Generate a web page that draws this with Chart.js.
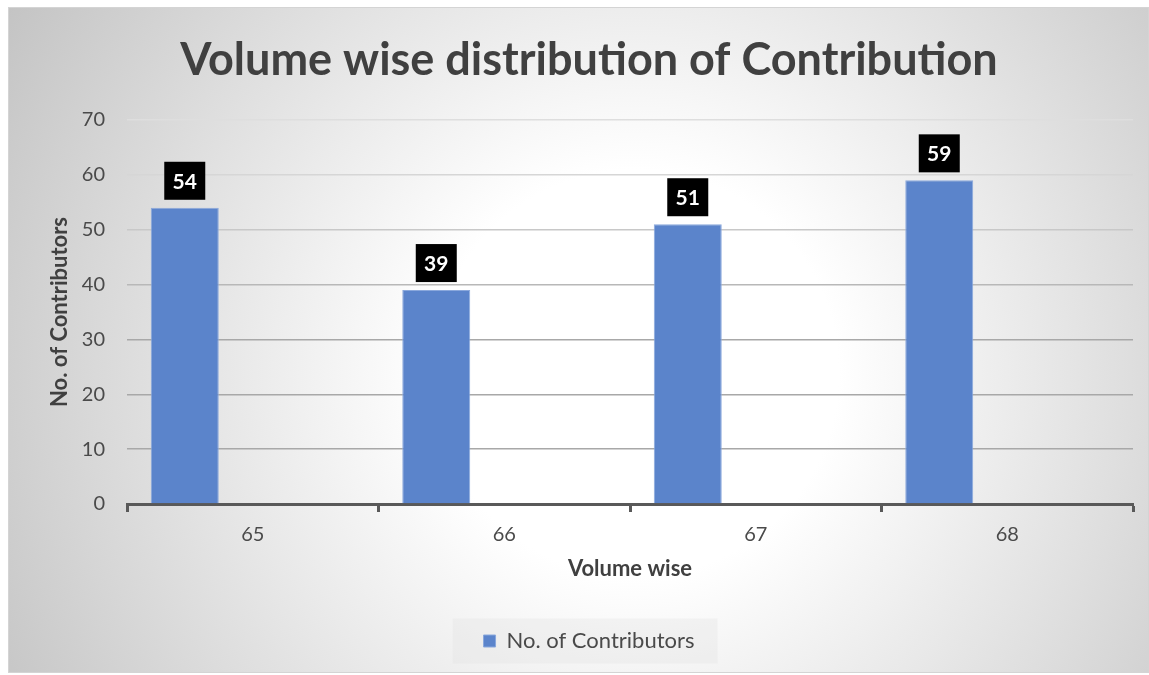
<!DOCTYPE html>
<html>
<head>
<meta charset="utf-8">
<script src="https://cdn.jsdelivr.net/npm/chart.js@4.4.0/dist/chart.umd.min.js"></script>
<style>
body{margin:0;background:#fff;}
#quadro{position:absolute;left:8px;top:7px;width:1139px;height:664px;border:1px solid #d4d4d4;
  background:radial-gradient(circle farthest-corner at 55% 55%, #ffffff 28%, #c4c4c4 100%);}
</style>
</head>
<body>
<div id="quadro"><canvas id="grafico" width="1139" height="664"></canvas></div>
<script>
var volumes=['65','66','67','68'];
var contribuidores=[54,39,51,59];
var vazio=[null,null,null,null];
var eixoYmin=0, eixoYmax=70, passoY=10;

var fonte="Lato, 'Open Sans', sans-serif";

// caixinhas pretas com o valor em cima de cada barra
var rotulos={
    id:'rotulos',
    afterDatasetsDraw:function(chart){
        var ctx=chart.ctx;
        var meta=chart.getDatasetMeta(0);
        ctx.save();
        ctx.font="bold 21px "+fonte;
        ctx.textAlign='center';
        ctx.textBaseline='middle';
        for (let i = 0; i < meta.data.length; i++) {
            var barra=meta.data[i];
            var w=41,h=38;
            var x=barra.x-w/2, y=barra.y-8-h;
            ctx.fillStyle='#000';
            ctx.fillRect(x,y,w,h);
            ctx.fillStyle='#fff';
            ctx.fillText(String(chart.data.datasets[0].data[i]),barra.x,y+h/2+1);
        }
        ctx.restore();
    }
};

// fundo da legenda
var fundoLegenda={
    id:'fundoLegenda',
    beforeDraw:function(chart){
        var leg=chart.legend;
        if(!leg || !leg.legendHitBoxes || !leg.legendHitBoxes.length) return;
        var hb=leg.legendHitBoxes[0];
        var ctx=chart.ctx;
        ctx.save();
        ctx.fillStyle='rgba(225,225,225,0.35)';
        ctx.fillRect(hb.left-31,hb.top+hb.height/2-22.5,hb.width+54,45);
        ctx.restore();
    }
};

function corGrade(ctx){
    var v=ctx.tick ? ctx.tick.value : 0;
    if(v>=70) return '#dedede';
    if(v>=60) return '#d6d6d6';
    if(v>=50) return '#c8c8c8';
    if(v>=40) return '#b8b8b8';
    return '#a8a8a8';
}

window.addEventListener("load", function (){
    Chart.defaults.font.family=fonte;
    new Chart(document.getElementById('grafico'),{
        type:'bar',
        data:{
            labels:volumes,
            datasets:[{
                label:'No. of Contributors',
                data:contribuidores,
                backgroundColor:'#5b84cb',
                borderColor:'#8aa8dc',
                borderWidth:1,
                categoryPercentage:0.811,
                barPercentage:1
            },{
                label:'extra1',
                data:vazio,
                categoryPercentage:0.811,
                barPercentage:1
            },{
                label:'extra2',
                data:vazio,
                categoryPercentage:0.811,
                barPercentage:1
            }]
        },
        options:{
            responsive:false,
            animation:false,
            layout:{padding:{left:36,right:15,top:0,bottom:10}},
            plugins:{
                title:{
                    display:true,
                    text:'Volume wise distribution of Contribution',
                    color:'#404040',
                    font:{size:45,weight:'bold'},
                    padding:{top:25.5,bottom:32.5}
                },
                legend:{
                    position:'bottom',
                    labels:{
                        boxWidth:12,
                        boxHeight:12,
                        color:'#4a4a4a',
                        font:{size:22},
                        filter:function(item){return item.datasetIndex===0;}
                    }
                },
                tooltip:{enabled:false}
            },
            scales:{
                x:{
                    grid:{
                        display:true,
                        drawOnChartArea:false,
                        drawTicks:true,
                        tickLength:8,
                        tickWidth:3,
                        tickColor:'#595959',
                        offset:true
                    },
                    border:{display:true,color:'#595959',width:3},
                    ticks:{color:'#4a4a4a',font:{size:20},padding:11},
                    title:{
                        display:true,
                        text:'Volume wise',
                        color:'#404040',
                        font:{size:22,weight:'bold'},
                        padding:{top:0,bottom:37.8}
                    },
                    afterFit:function(scale){scale.height=116;}
                },
                y:{
                    min:eixoYmin,
                    max:eixoYmax,
                    grid:{color:corGrade,lineWidth:1.5,drawTicks:false},
                    border:{display:false},
                    ticks:{stepSize:passoY,color:'#4a4a4a',font:{size:20},padding:22},
                    title:{
                        display:true,
                        text:'No. of Contributors',
                        color:'#404040',
                        font:{size:22,weight:'bold'},
                        padding:{top:1.8,bottom:0}
                    },
                    afterFit:function(scale){scale.width=82;}
                }
            }
        },
        plugins:[fundoLegenda,rotulos]
    });
});
</script>
</body>
</html>
